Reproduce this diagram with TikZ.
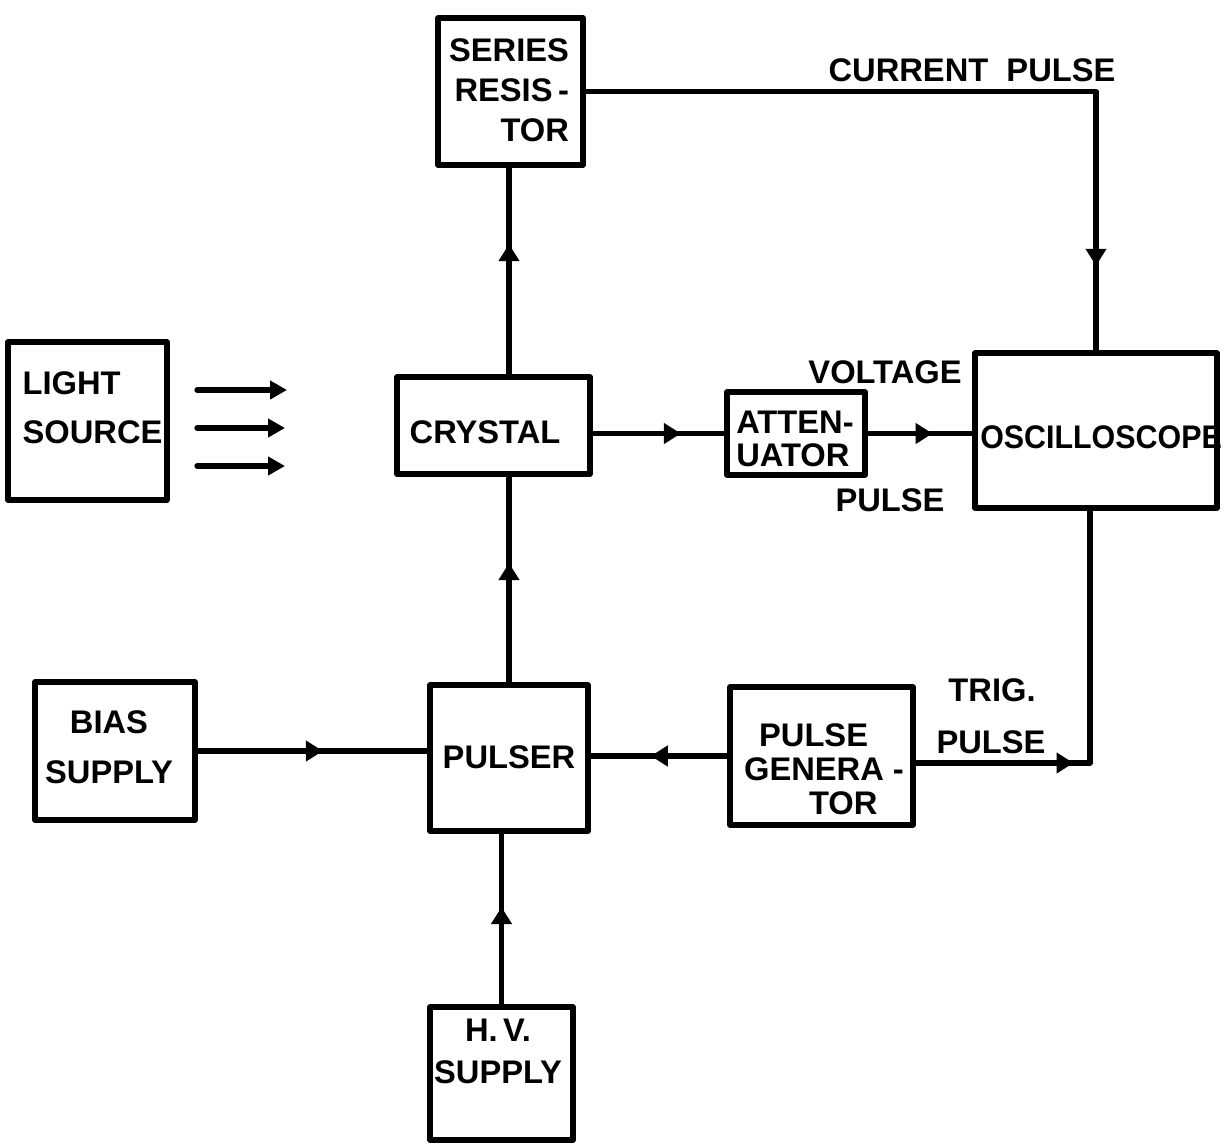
\documentclass[tikz,border=0pt]{standalone}
\usepackage{fontspec}
\setmainfont{Liberation Sans}
\usetikzlibrary{arrows.meta,decorations.markings}
\tikzset{
  box/.style 2 args={draw, line width=1.5pt, line join=round, inner sep=0pt,
     minimum width=#1*0.1mm, minimum height=#2*0.1mm},
  lbl/.style={font=\fontsize{9.3}{11.4}\selectfont\bfseries, inner sep=0pt},
  wire/.style={line width=1.5pt, line join=round},
  midarr/.style={postaction={decorate}, decoration={markings,
     mark=at position #1 with {\arrow{Triangle[length=1.7mm,width=2mm]}}}},
  ray/.style={line width=1.5pt, line cap=round, -{Triangle[length=1.7mm,width=1.8mm]}},
}
\begin{document}
\begin{tikzpicture}[x=0.1mm, y=-0.1mm]
\useasboundingbox (0,0) rectangle (1229,1145);
% boxes
\node[box={145}{147}] (series) at (510.5,91.5) {};
\node[box={159}{158}] (light) at (87.5,421) {};
\node[box={193}{97}] (crystal) at (493.5,425.5) {};
\node[box={138}{83}] (atten) at (796,433.5) {};
\node[box={242}{155}] (osc) at (1096,430.5) {};
\node[box={160}{138}] (bias) at (115,751) {};
\node[box={158}{146}] (pulser) at (509,758) {};
\node[box={183}{138}] (pgen) at (821.5,756) {};
\node[box={143}{133}] (hv) at (501.5,1073.5) {};
% box texts
\node[lbl, align=right] (seriest) at (509,90) {SERIES\\RESIS\,-\\TOR};
\node[lbl, align=left] (lightt) at (92.5,408) {LIGHT\\[0.9mm]SOURCE};
\node[lbl] (crystalt) at (485,432) {CRYSTAL};
\node[lbl, align=left] (attent) at (795,438.5) {ATTEN-\\[-0.7mm]UATOR};
\node[lbl] (osct) at (1101,437) {\scalebox{0.93}[1]{OSCILLOSCOPE}};
\node[lbl, align=center] (biast) at (109,747) {BIAS\\[1mm]SUPPLY};
\node[lbl] (pulsert) at (509,757) {PULSER};
\node[lbl, align=left] (pgent) at (824,769) {\hspace{1.5mm}PULSE\\[-0.6mm]GENERA~-\\[-0.6mm]\hspace{6.5mm}TOR};
\node[lbl, align=center] (hvt) at (498,1051) {H.\,V.\\[0.2mm]SUPPLY};
% free labels
\node[lbl] (curl) at (972,70) {CURRENT\ \ PULSE};
\node[lbl] (voltl) at (885,372) {VOLTAGE};
\node[lbl] (vpulsel) at (890,500) {PULSE};
\node[lbl] (trigl) at (992,690) {TRIG.};
\node[lbl] (tpulsel) at (991,742) {PULSE};
% connectors
\draw[wire, midarr=0.63] (crystal.north -| pulser.north) -- (series.south -| pulser.north);
\draw[wire, midarr=0.89] (series.east) -| (osc.north);
\draw[wire, midarr=0.67] (crystal.east |- atten.west) -- (atten.west);
\draw[wire, midarr=0.62] (atten.east) -- (atten.east -| osc.west);
\draw[wire, midarr=0.37] ([yshift=-0.7mm]pgen.east) -| ([xshift=-0.6mm]osc.south);
\draw[wire, midarr=0.56] (pgen.west) -- (pgen.west -| pulser.east);
\draw[wire, midarr=0.545] (bias.east) -- (bias.east -| pulser.west);
\draw[wire, midarr=0.58] (pulser.north) -- (pulser.north |- crystal.south);
\draw[wire, midarr=0.57] (hv.north) -- (hv.north |- pulser.south);
% light rays
\coordinate (r1a) at (197,390); \coordinate (r1b) at (287,390);
\coordinate (r2a) at (197,428); \coordinate (r2b) at (285,428);
\coordinate (r3a) at (197,466); \coordinate (r3b) at (285,466);
\draw[ray] (r1a) -- (r1b);
\draw[ray] (r2a) -- (r2b);
\draw[ray] (r3a) -- (r3b);
\end{tikzpicture}
\end{document}
